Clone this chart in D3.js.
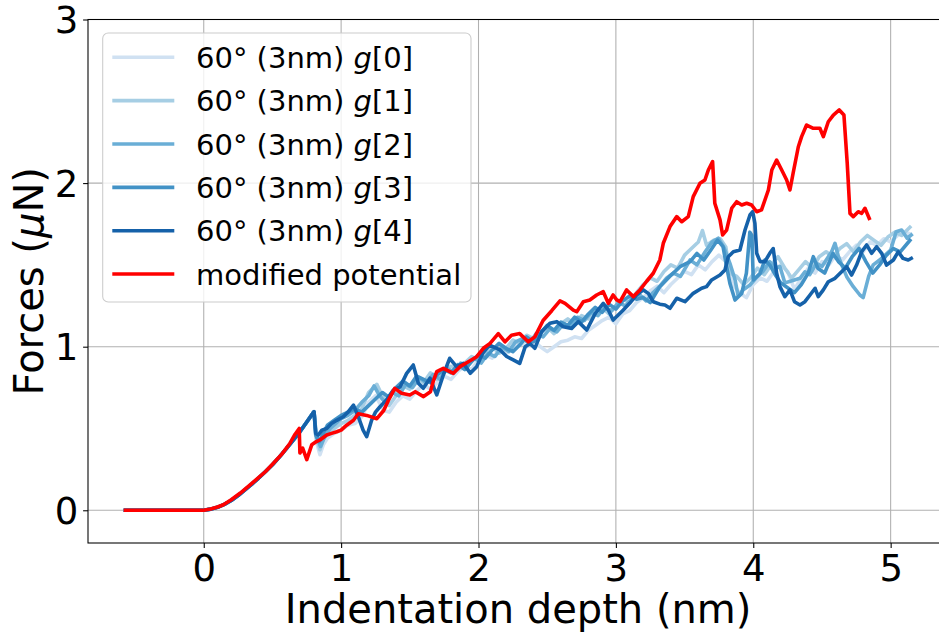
<!DOCTYPE html>
<html><head><meta charset="utf-8">
<script src="https://cdn.jsdelivr.net/npm/d3@7/dist/d3.min.js"></script>
<style>
html,body{margin:0;padding:0;background:#fff;}
svg text{font-family:"DejaVu Sans",sans-serif;}
</style></head>
<body>
<svg id="chart" width="939" height="637"></svg>
<script>
(function(){
// ---------- data ----------
const xTicks = [0, 1, 2, 3, 4, 5];
const yTicks = [0, 1, 2, 3];
const seriesNames = ["g[0]", "g[1]", "g[2]", "g[3]", "g[4]", "modified potential"];
const seriesColors = ["#d0e1f2", "#a6cee4", "#6aaed6", "#4292c6", "#1561a9", "#ff0000"];

// shared approach part of all 60° runs
const approachBlue = [[-0.57,0],[-0.3,0],[0,0],[0.05,0.007],[0.1,0.018],[0.15,0.036],[0.2,0.06],[0.25,0.09],[0.3,0.125],[0.35,0.16],[0.4,0.197],[0.45,0.237],[0.5,0.278],[0.55,0.325],[0.6,0.375],[0.65,0.428],[0.7,0.48],[0.75,0.54],[0.8,0.60]];

const g0 = [[0.803,0.60],[0.82,0.42],[0.846,0.34],[0.87,0.40],[0.9,0.44],[0.95,0.47],[1.0,0.49],[1.05,0.52],[1.1,0.53],[1.15,0.57],[1.2,0.66],[1.25,0.70],[1.31,0.61],[1.35,0.60],[1.4,0.66],[1.45,0.70],[1.5,0.68],[1.55,0.73],[1.6,0.77],[1.65,0.74],[1.7,0.78],[1.75,0.82],[1.8,0.80],[1.85,0.85],[1.9,0.88],[1.95,0.86],[2.0,0.92],[2.05,0.95],[2.1,0.93],[2.15,0.98],[2.2,0.96],[2.25,0.99],[2.3,1.03],[2.35,1.0],[2.4,1.04],[2.45,1.0],[2.5,0.97],[2.55,1.0],[2.6,1.03],[2.65,1.04],[2.7,1.06],[2.75,1.05],[2.8,1.1],[2.85,1.13],[2.9,1.16],[2.95,1.18],[3.0,1.14],[3.05,1.2],[3.1,1.22],[3.15,1.27],[3.2,1.30],[3.25,1.34],[3.3,1.37],[3.35,1.33],[3.4,1.38],[3.45,1.42],[3.5,1.46],[3.55,1.44],[3.6,1.50],[3.65,1.47],[3.7,1.52],[3.75,1.56],[3.8,1.52],[3.85,1.38],[3.9,1.33],[3.95,1.30],[4.0,1.38],[4.05,1.42],[4.1,1.40],[4.15,1.46],[4.2,1.50],[4.25,1.46],[4.3,1.35],[4.35,1.42],[4.4,1.48],[4.45,1.45],[4.5,1.52],[4.55,1.50],[4.6,1.56],[4.65,1.53],[4.7,1.58],[4.75,1.62],[4.8,1.58],[4.85,1.64],[4.9,1.62],[4.95,1.66],[5.0,1.64],[5.05,1.68],[5.1,1.70],[5.14,1.69]];

const g1 = [[0.803,0.60],[0.82,0.44],[0.846,0.37],[0.87,0.43],[0.9,0.47],[0.95,0.50],[1.0,0.53],[1.05,0.55],[1.1,0.58],[1.15,0.62],[1.2,0.72],[1.26,0.77],[1.3,0.70],[1.35,0.64],[1.4,0.70],[1.45,0.76],[1.5,0.74],[1.55,0.80],[1.6,0.78],[1.65,0.84],[1.7,0.80],[1.75,0.85],[1.8,0.88],[1.85,0.86],[1.9,0.90],[1.95,0.94],[2.0,0.92],[2.05,0.97],[2.1,1.0],[2.15,0.96],[2.2,0.99],[2.25,1.04],[2.3,1.02],[2.35,1.07],[2.4,1.05],[2.45,1.09],[2.5,1.12],[2.55,1.08],[2.6,1.14],[2.65,1.17],[2.7,1.14],[2.75,1.19],[2.8,1.17],[2.85,1.22],[2.9,1.24],[2.95,1.20],[3.0,1.25],[3.05,1.29],[3.1,1.27],[3.15,1.33],[3.2,1.38],[3.25,1.42],[3.3,1.40],[3.35,1.46],[3.4,1.50],[3.45,1.48],[3.5,1.56],[3.55,1.60],[3.6,1.64],[3.63,1.71],[3.66,1.62],[3.71,1.65],[3.76,1.66],[3.8,1.61],[3.83,1.45],[3.88,1.43],[3.93,1.38],[3.98,1.42],[4.03,1.48],[4.08,1.44],[4.13,1.50],[4.18,1.55],[4.23,1.48],[4.28,1.42],[4.33,1.47],[4.38,1.52],[4.43,1.48],[4.48,1.55],[4.53,1.58],[4.58,1.55],[4.63,1.60],[4.68,1.63],[4.73,1.58],[4.78,1.64],[4.83,1.68],[4.88,1.65],[4.93,1.62],[4.98,1.67],[5.03,1.70],[5.08,1.68],[5.14,1.73]];

const g2 = [[0.803,0.60],[0.82,0.45],[0.85,0.39],[0.88,0.45],[0.92,0.50],[0.96,0.53],[1.0,0.56],[1.05,0.58],[1.1,0.61],[1.15,0.66],[1.2,0.70],[1.24,0.76],[1.28,0.70],[1.32,0.66],[1.37,0.72],[1.42,0.70],[1.47,0.77],[1.52,0.75],[1.57,0.81],[1.62,0.78],[1.67,0.83],[1.72,0.80],[1.77,0.87],[1.82,0.84],[1.87,0.90],[1.92,0.88],[1.97,0.93],[2.02,0.90],[2.07,0.96],[2.12,0.94],[2.17,1.0],[2.22,0.97],[2.27,1.03],[2.32,1.05],[2.37,1.02],[2.42,1.08],[2.47,1.06],[2.52,1.11],[2.57,1.09],[2.62,1.14],[2.67,1.12],[2.72,1.18],[2.77,1.16],[2.82,1.21],[2.87,1.19],[2.92,1.24],[2.97,1.22],[3.02,1.27],[3.07,1.25],[3.12,1.30],[3.17,1.32],[3.22,1.28],[3.27,1.33],[3.32,1.37],[3.37,1.42],[3.42,1.45],[3.47,1.43],[3.54,1.53],[3.59,1.50],[3.65,1.58],[3.70,1.64],[3.745,1.663],[3.79,1.60],[3.83,1.51],[3.867,1.41],[3.89,1.31],[3.927,1.347],[3.976,1.377],[4.02,1.42],[4.07,1.46],[4.12,1.52],[4.16,1.48],[4.194,1.49],[4.23,1.39],[4.27,1.40],[4.34,1.418],[4.376,1.458],[4.41,1.44],[4.461,1.51],[4.5,1.49],[4.57,1.58],[4.595,1.632],[4.62,1.55],[4.655,1.479],[4.68,1.428],[4.728,1.367],[4.776,1.316],[4.80,1.30],[4.84,1.43],[4.873,1.50],[4.92,1.53],[4.96,1.56],[5.0,1.59],[5.04,1.703],[5.08,1.713],[5.12,1.663],[5.15,1.683]];

const g3 = [[0.803,0.60],[0.815,0.46],[0.84,0.42],[0.87,0.47],[0.9,0.52],[0.95,0.55],[1.0,0.58],[1.05,0.60],[1.1,0.62],[1.15,0.60],[1.2,0.64],[1.25,0.68],[1.3,0.72],[1.35,0.69],[1.4,0.75],[1.45,0.79],[1.5,0.76],[1.55,0.82],[1.6,0.80],[1.65,0.78],[1.7,0.83],[1.75,0.86],[1.8,0.84],[1.85,0.89],[1.9,0.86],[1.95,0.91],[2.0,0.95],[2.05,0.93],[2.1,0.98],[2.15,1.02],[2.2,0.99],[2.25,0.97],[2.3,1.01],[2.35,1.06],[2.4,1.03],[2.45,1.08],[2.5,1.13],[2.55,1.10],[2.6,1.15],[2.65,1.13],[2.7,1.18],[2.75,1.15],[2.8,1.20],[2.85,1.24],[2.9,1.21],[2.95,1.26],[3.0,1.23],[3.05,1.28],[3.1,1.31],[3.15,1.29],[3.2,1.30],[3.25,1.27],[3.32,1.367],[3.39,1.428],[3.467,1.489],[3.54,1.52],[3.59,1.57],[3.64,1.53],[3.69,1.59],[3.74,1.652],[3.78,1.611],[3.806,1.489],[3.83,1.387],[3.867,1.285],[3.916,1.326],[3.95,1.45],[3.975,1.70],[3.99,1.68],[4.0,1.408],[4.05,1.449],[4.085,1.53],[4.12,1.50],[4.16,1.44],[4.2,1.39],[4.25,1.36],[4.3,1.33],[4.35,1.38],[4.4,1.45],[4.437,1.55],[4.47,1.48],[4.52,1.45],[4.58,1.57],[4.62,1.52],[4.67,1.48],[4.72,1.55],[4.77,1.60],[4.82,1.52],[4.87,1.45],[4.92,1.50],[4.97,1.56],[5.02,1.60],[5.07,1.58],[5.14,1.65]];

const g4 = [[0.803,0.603],[0.815,0.47],[0.834,0.46],[0.86,0.49],[0.895,0.50],[0.93,0.53],[0.968,0.55],[1.016,0.572],[1.05,0.60],[1.09,0.643],[1.125,0.572],[1.16,0.49],[1.186,0.45],[1.222,0.55],[1.25,0.60],[1.283,0.633],[1.33,0.674],[1.38,0.735],[1.43,0.755],[1.477,0.837],[1.525,0.888],[1.562,0.776],[1.598,0.746],[1.647,0.807],[1.696,0.705],[1.744,0.827],[1.79,0.929],[1.84,0.878],[1.89,0.898],[1.94,0.837],[1.987,0.878],[2.03,0.96],[2.08,1.01],[2.157,0.98],[2.205,0.94],[2.253,0.919],[2.30,0.898],[2.34,1.0],[2.375,1.02],[2.41,0.99],[2.46,1.092],[2.52,1.143],[2.57,1.153],[2.617,1.122],[2.678,1.112],[2.726,1.153],[2.788,1.102],[2.85,1.204],[2.908,1.265],[2.945,1.224],[2.98,1.163],[3.017,1.194],[3.054,1.224],[3.10,1.265],[3.15,1.316],[3.2,1.347],[3.236,1.326],[3.272,1.275],[3.32,1.26],[3.357,1.255],[3.394,1.235],[3.443,1.296],[3.503,1.275],[3.563,1.326],[3.624,1.357],[3.66,1.367],[3.697,1.408],[3.758,1.438],[3.794,1.469],[3.818,1.55],[3.855,1.58],[3.903,1.591],[3.94,1.713],[3.976,1.805],[3.996,1.825],[4.012,1.754],[4.025,1.571],[4.05,1.52],[4.085,1.52],[4.12,1.571],[4.145,1.60],[4.17,1.449],[4.194,1.367],[4.23,1.306],[4.267,1.347],[4.30,1.275],[4.34,1.255],[4.376,1.275],[4.413,1.316],[4.45,1.357],[4.473,1.306],[4.51,1.347],[4.546,1.397],[4.595,1.418],[4.643,1.458],[4.68,1.489],[4.716,1.438],[4.752,1.499],[4.789,1.58],[4.825,1.622],[4.862,1.571],[4.898,1.611],[4.935,1.571],[4.97,1.499],[5.02,1.53],[5.055,1.58],[5.09,1.54],[5.128,1.53],[5.15,1.54]];

const modified = [[-0.57,0],[-0.3,0],[0,0],[0.05,0.008],[0.1,0.02],[0.143,0.034],[0.2,0.064],[0.264,0.104],[0.32,0.143],[0.386,0.19],[0.45,0.237],[0.507,0.287],[0.57,0.345],[0.628,0.41],[0.665,0.465],[0.695,0.50],[0.70,0.35],[0.72,0.38],[0.75,0.31],[0.786,0.40],[0.82,0.42],[0.846,0.43],[0.895,0.46],[0.93,0.47],[0.968,0.48],[1.0,0.49],[1.04,0.52],[1.09,0.55],[1.125,0.59],[1.186,0.58],[1.26,0.56],[1.31,0.61],[1.343,0.67],[1.39,0.745],[1.44,0.715],[1.50,0.705],[1.54,0.725],[1.60,0.695],[1.65,0.725],[1.67,0.786],[1.696,0.847],[1.744,0.868],[1.817,0.837],[1.865,0.878],[1.926,0.908],[1.987,0.939],[2.035,0.99],[2.084,1.02],[2.144,1.08],[2.193,1.03],[2.24,1.07],[2.30,1.08],[2.362,1.03],[2.41,1.06],[2.47,1.16],[2.533,1.22],[2.593,1.28],[2.63,1.265],[2.69,1.224],[2.715,1.214],[2.763,1.275],[2.81,1.285],[2.86,1.316],[2.908,1.336],[2.945,1.265],[2.98,1.316],[3.006,1.286],[3.03,1.275],[3.078,1.347],[3.127,1.306],[3.175,1.347],[3.224,1.40],[3.272,1.449],[3.32,1.53],[3.345,1.632],[3.394,1.734],[3.443,1.795],[3.479,1.764],[3.527,1.795],[3.563,1.917],[3.612,1.999],[3.648,2.019],[3.673,2.08],[3.704,2.131],[3.72,1.877],[3.758,1.775],[3.777,1.683],[3.806,1.713],[3.843,1.846],[3.879,1.886],[3.916,1.866],[3.952,1.877],[3.988,1.866],[4.025,1.825],[4.06,1.836],[4.11,1.958],[4.135,2.08],[4.17,2.141],[4.207,2.08],[4.243,2.019],[4.267,1.958],[4.29,2.06],[4.328,2.222],[4.352,2.284],[4.388,2.355],[4.437,2.335],[4.485,2.335],[4.51,2.284],[4.546,2.375],[4.583,2.416],[4.626,2.447],[4.66,2.416],[4.684,2.121],[4.704,1.815],[4.728,1.795],[4.764,1.825],[4.789,1.815],[4.813,1.846],[4.844,1.785]];

const seriesData = [approachBlue.concat(g0), approachBlue.concat(g1), approachBlue.concat(g2), approachBlue.concat(g3), approachBlue.concat(g4), modified];

// ---------- layout ----------
const svg = d3.select("#chart");
const x = d3.scaleLinear().domain([-0.8425, 5.4335]).range([88, 950.2]);
const y = d3.scaleLinear().domain([-0.2, 3.0]).range([543, 19.5]);
const pTop = y.range()[1], pBottom = y.range()[0], pLeft = x.range()[0], pRight = x.range()[1];

// grid
const grid = svg.append("g");
grid.selectAll(".vg").data(xTicks).join("line")
  .attr("x1", d => x(d)).attr("x2", d => x(d)).attr("y1", pTop).attr("y2", pBottom)
  .attr("stroke", "#b0b0b0").attr("stroke-width", 1.07);
grid.selectAll(".hg").data(yTicks).join("line")
  .attr("x1", pLeft).attr("x2", pRight).attr("y1", d => y(d)).attr("y2", d => y(d))
  .attr("stroke", "#b0b0b0").attr("stroke-width", 1.07);

// lines
const line = d3.line().x(d => x(d[0])).y(d => y(d[1]));
svg.append("g").selectAll("path").data(seriesData).join("path")
  .attr("d", d => line(d))
  .attr("fill", "none")
  .attr("stroke", (d, i) => seriesColors[i])
  .attr("stroke-width", 3.6)
  .attr("stroke-linejoin", "round")
  .attr("stroke-linecap", "square");

// axes
const fmt = d3.format("d");
const xAxis = d3.axisBottom(x).tickValues(xTicks).tickFormat(fmt).tickSize(4.9).tickPadding(4.9).tickSizeOuter(0);
const yAxis = d3.axisLeft(y).tickValues(yTicks).tickFormat(fmt).tickSize(4.9).tickPadding(4.9).tickSizeOuter(0);
const gx = svg.append("g").attr("transform", `translate(0,${pBottom})`).call(xAxis);
const gy = svg.append("g").attr("transform", `translate(${pLeft},0)`).call(yAxis);
[gx, gy].forEach(g => {
  g.select(".domain").remove();
  g.selectAll(".tick line").attr("stroke", "#000").attr("stroke-width", 1.07);
  g.selectAll(".tick text").attr("fill", "#000").style("font-size", "37px").style("font-family", "DejaVu Sans");
});
gx.selectAll(".tick text").attr("dy", "0.76em");
gy.selectAll(".tick text").attr("dy", "0.35em");

// spines
svg.append("rect").attr("x", pLeft).attr("y", pTop).attr("width", pRight - pLeft).attr("height", pBottom - pTop)
  .attr("fill", "none").attr("stroke", "#000").attr("stroke-width", 1.07);

// axis labels
svg.append("text").attr("x", (pLeft + pRight) / 2 - 1).attr("y", 623).attr("text-anchor", "middle")
  .style("font-size", "40px").attr("fill", "#000").text("Indentation depth (nm)");
const yl = svg.append("text").attr("transform", `translate(43,${(pTop + pBottom) / 2}) rotate(-90)`)
  .attr("text-anchor", "middle").style("font-size", "40px").attr("fill", "#000");
yl.append("tspan").text("Forces (");
yl.append("tspan").style("font-style", "italic").text("μ");
yl.append("tspan").text("N)");

// legend
const lg = svg.append("g");
lg.append("rect").attr("x", 102.7).attr("y", 33).attr("width", 368.3).attr("height", 269)
  .attr("rx", 5.5).attr("ry", 5.5)
  .attr("fill", "#fff").attr("fill-opacity", 0.8).attr("stroke", "#cccccc").attr("stroke-width", 1.07);
const rowY0 = 57.3, rowStep = 43.35;
seriesNames.forEach((name, i) => {
  const cy = rowY0 + i * rowStep;
  lg.append("line").attr("x1", 112.3).attr("x2", 174.3).attr("y1", cy).attr("y2", cy)
    .attr("stroke", seriesColors[i]).attr("stroke-width", 3.6);
  const t = lg.append("text").attr("x", 196).attr("y", cy + 10.6).style("font-size", "29px").attr("fill", "#000");
  if (i < 5) {
    t.append("tspan").text("60° (3nm) ");
    t.append("tspan").style("font-style", "italic").text("g");
    t.append("tspan").text(name.slice(1));
  } else {
    t.text(name);
  }
});
})();
</script>
</body></html>
